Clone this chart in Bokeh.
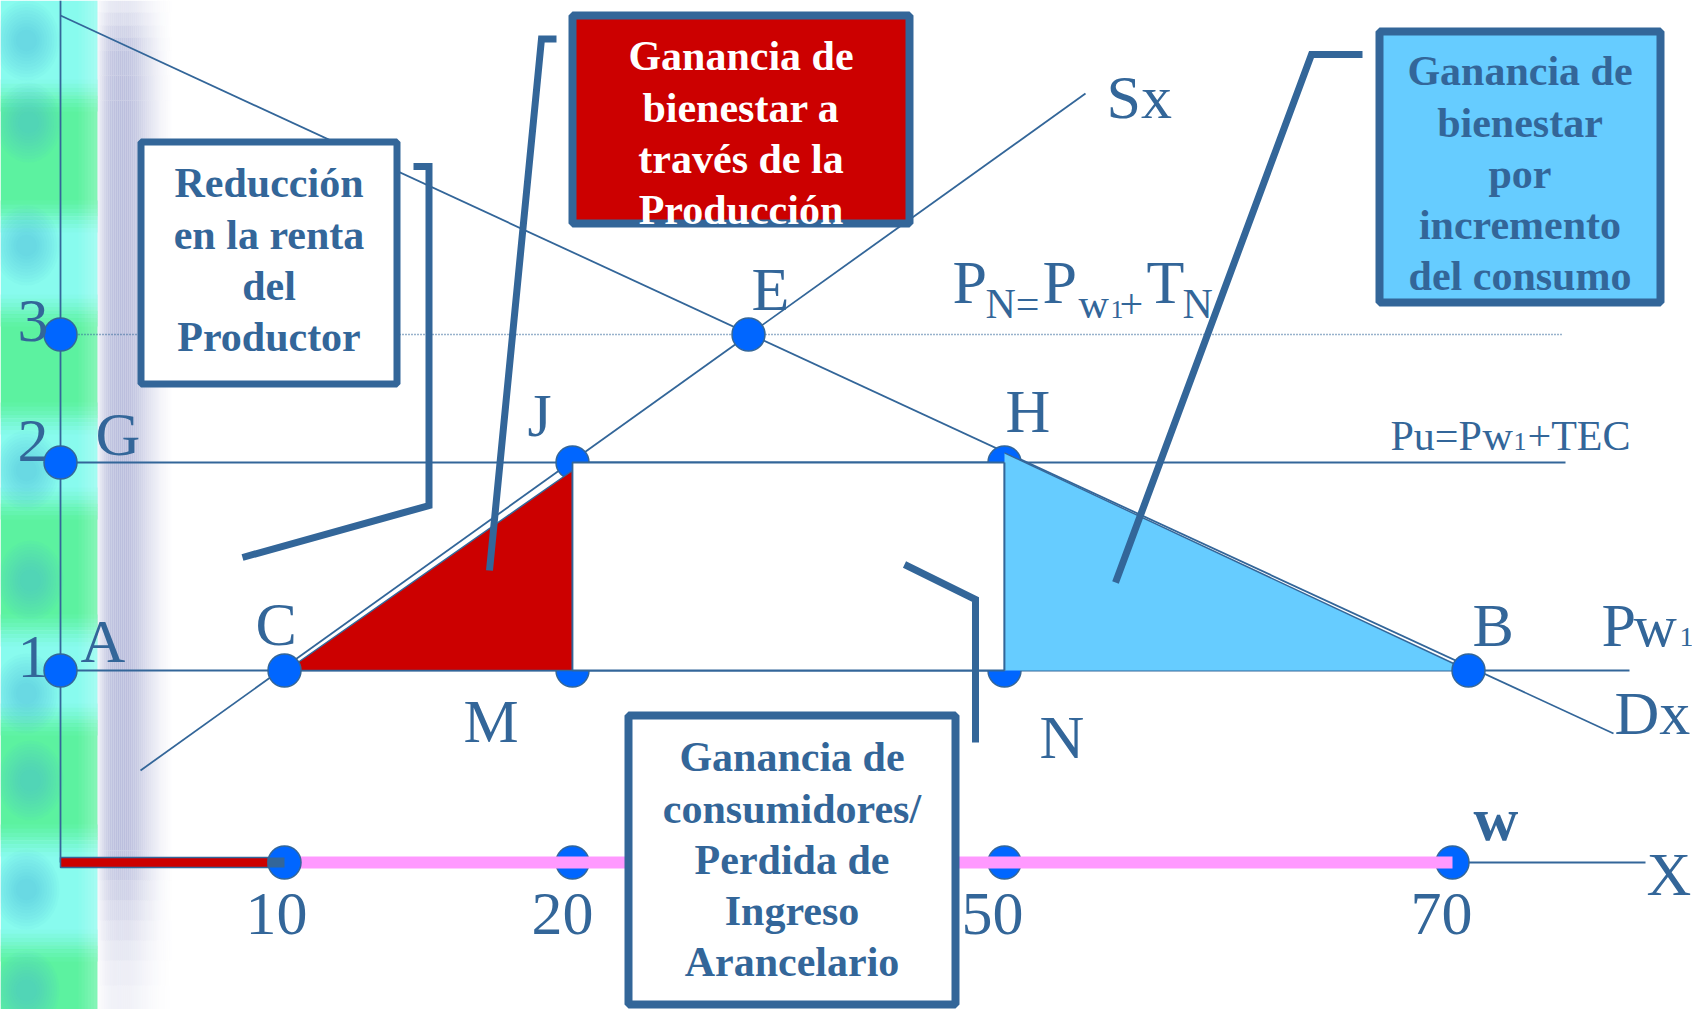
from bokeh.plotting import figure
from bokeh.models import Range1d
from bokeh.embed import file_html
from bokeh.resources import INLINE
from bokeh.core.properties import value

# ---------------- data (schematic diagram, drawing units) ----------------
price_labels = ["1", "2", "3"]          # price levels Pw1, Pu, PN
price_pos = [670, 462, 334]
qty_labels = ["10", "20", "50", "70"]  # quantities on X
qty_pos = [284, 572, 1004, 1452]
origin = (60, 862)
E_x = 748            # equilibrium point E (on price level 3)
B_x = 1468           # point B on demand at world price
demand_ends = ([60, 1613], [15, 733])
supply_ends = ([140, 1085], [770, 93])

box1_lines = ["Reducción", "en la renta", "del", "Productor"]
box2_lines = ["Ganancia de", "bienestar a", "través de la", "Producción"]
box3_lines = ["Ganancia de", "bienestar", "por", "incremento", "del consumo"]
box4_lines = ["Ganancia de", "consumidores/", "Perdida de", "Ingreso", "Arancelario"]

# ---------------- styles ----------------
BLUE = "#336699"
DOT = "#0066FF"
RED = "#CC0000"
SKY = "#66CCFF"
PINK = "#FF99FF"
SERIF = value("Liberation Serif")
KB = 0.34   # baseline correction (em)

P1, P2, P3 = price_pos
Q10, Q20, Q50, Q70 = qty_pos
C = (Q10, P1); M = (Q20, P1); J = (Q20, P2); N = (Q50, P1); H = (Q50, P2)
E = (E_x, P3); B = (B_x, P1)

def dem_y(x):
    (x0, x1), (y0, y1) = demand_ends
    return y0 + (y1 - y0) * (x - x0) / (x1 - x0)

def interp(x, xp, fp):
    for i in range(len(xp) - 1):
        if xp[i] <= x <= xp[i + 1]:
            t = (x - xp[i]) / (xp[i + 1] - xp[i])
            return fp[i] + (fp[i + 1] - fp[i]) * t
    return fp[-1] if x > xp[-1] else fp[0]

p = figure(width=1692, height=1009, x_range=Range1d(0, 1692), y_range=Range1d(1009, 0),
           output_backend="svg", toolbar_location=None, min_border=0,
           x_axis_type=None, y_axis_type=None)
p.grid.visible = False
p.outline_line_color = None
p.background_fill_color = "white"
p.border_fill_color = "white"

# ---------------- decorative left stripe ----------------
def hexmix(a, b, t):
    a = [int(a[i:i + 2], 16) for i in (1, 3, 5)]
    b = [int(b[i:i + 2], 16) for i in (1, 3, 5)]
    return "#%02x%02x%02x" % tuple(int(round(a[k] + (b[k] - a[k]) * t)) for k in range(3))

bands = [(0, 95, "c"), (95, 216, "g"), (216, 310, "c"), (310, 418, "g"), (418, 503, "c"),
         (503, 630, "g"), (630, 719, "c"), (719, 840, "g"), (840, 945, "c"), (945, 1025, "g")]
cols = {"g": "#5CF2A0", "c": "#88FBEE"}
p.quad(left=[0] * len(bands), right=[97] * len(bands), top=[b[0] for b in bands],
       bottom=[b[1] for b in bands], fill_color=[cols[b[2]] for b in bands], line_color=None)
TT, TB, TC = [], [], []
for i in range(1, len(bands)):
    yb = bands[i][0]
    ca, cb = cols[bands[i - 1][2]], cols[bands[i][2]]
    for k in range(8):
        TT.append(yb - 16 + 4 * k); TB.append(yb - 12 + 4 * k); TC.append(hexmix(ca, cb, (k + 0.5) / 8))
p.quad(left=[0] * len(TT), right=[97] * len(TT), top=TT, bottom=TB, fill_color=TC, line_color=None)
blob_y = [40, 122, 245, 470, 580, 693, 780, 889, 990]
blob_x = [26, 28, 26, 26, 30, 26, 30, 26, 26]
for k in range(10):
    p.ellipse(x=blob_x, y=blob_y, width=66 - 5 * k, height=80 - 6.5 * k, fill_color="#45B8E0",
              fill_alpha=0.055, line_color=None)
for k, x0 in enumerate(range(78, 97, 3)):
    p.quad(left=[x0], right=[x0 + 3], top=[0], bottom=[1025], fill_color="white",
           fill_alpha=0.04 * (k + 1), line_color=None)

# lavender shadow
hx = [97, 100, 105, 110, 118, 128, 136, 144, 152, 160, 168, 172]
ha = [0.1, 0.3, 0.55, 0.72, 0.8, 0.78, 0.65, 0.45, 0.28, 0.13, 0.04, 0.0]
vy = [0, 25, 50, 100, 850, 880, 920, 960, 1009]
vf = [0.3, 0.6, 0.9, 1.0, 1.0, 0.75, 0.5, 0.3, 0.18]
ycuts = [0, 12, 25, 37, 50, 75, 100, 850, 865, 880, 900, 920, 940, 960, 985, 1009]
L, R, T, Bt, A = [], [], [], [], []
for j in range(len(ycuts) - 1):
    y0, y1 = ycuts[j], ycuts[j + 1]
    f = interp((y0 + y1) / 2, vy, vf)
    for x0 in range(97, 172, 2):
        a = interp(x0 + 1, hx, ha) * f
        if a > 0.005:
            L.append(x0); R.append(x0 + 2); T.append(y0); Bt.append(y1); A.append(a)
p.quad(left=L, right=R, top=T, bottom=Bt, fill_color="#A9AED4", fill_alpha=A, line_color=None)

# ---------------- lines ----------------
p.line(x=[origin[0], origin[0]], y=[0, origin[1]], line_color=BLUE, line_width=1.8)
p.line(x=[origin[0], 1645], y=[origin[1], origin[1]], line_color=BLUE, line_width=1.8)
p.line(x=demand_ends[0], y=demand_ends[1], line_color=BLUE, line_width=1.8)
p.line(x=supply_ends[0], y=supply_ends[1], line_color=BLUE, line_width=1.8)
p.line(x=[origin[0], 1629], y=[P1, P1], line_color=BLUE, line_width=1.8)
p.line(x=[origin[0], 1565], y=[P2, P2], line_color=BLUE, line_width=1.8)
p.line(x=[origin[0], 1562], y=[P3, P3], line_color=BLUE, line_width=1.5, line_dash="1 2")

# dots hidden partly under the areas
under = [J, M, H, N]
p.scatter(x=[q[0] for q in under], y=[q[1] for q in under], size=33, fill_color=DOT,
          line_color=BLUE, line_width=1.5)
p.scatter(x=[Q20, Q50, Q70], y=[origin[1]] * 3, size=33, fill_color=DOT, line_color=BLUE, line_width=1.5)

# areas
p.patch(x=[C[0] + 2, J[0], M[0]], y=[C[1], J[1] + 8, M[1]], fill_color=RED, line_color=BLUE, line_width=1.5)
p.quad(left=[J[0]], right=[H[0]], top=[J[1]], bottom=[M[1]], fill_color="white",
       line_color=BLUE, line_width=1.8)
p.patch(x=[H[0], B[0], N[0]], y=[dem_y(H[0]) + 1, B[1], N[1]], fill_color=SKY, line_color=None)
p.line(x=[H[0], N[0]], y=[H[1], N[1]], line_color=BLUE, line_width=1.8)
p.line(x=[H[0], B[0]], y=[dem_y(H[0]) + 1, B[1]], line_color=BLUE, line_width=1.4)

# axis bars
p.quad(left=[Q10], right=[Q70], top=[856], bottom=[868], fill_color=PINK, line_color=None)
p.quad(left=[origin[0]], right=[Q10], top=[857], bottom=[867], fill_color=RED, line_color=BLUE, line_width=1.5)
p.scatter(x=[Q10], y=[origin[1]], size=33, fill_color=DOT, line_color=BLUE, line_width=1.5)
p.quad(left=[Q10 - 17], right=[Q10], top=[857], bottom=[867], fill_color=BLUE, line_color=None)

# dots on top
top_pts = [C, B, E] + [(origin[0], y) for y in price_pos]
p.scatter(x=[q[0] for q in top_pts], y=[q[1] for q in top_pts], size=33, fill_color=DOT,
          line_color=BLUE, line_width=1.5)

# ---------------- labels ----------------
def txt(x, y, s, size, color=BLUE, style="normal", align="left"):
    p.text(x=[x], y=[y - KB * size], text=[s], text_font=SERIF, text_font_size=value(f"{size}px"),
           text_color=color, text_font_style=style, text_baseline="alphabetic", text_align=align)

for lab, base in zip(price_labels, [678, 462, 342]):
    txt(48, base, lab, 62, align="right")
for lab, lx in zip(qty_labels, [245, 531, 961, 1410]):
    txt(lx, 935, lab, 62)

txt(95, 455, "G", 62)
txt(80, 662, "A", 62)
txt(255, 645, "C", 62)
txt(463, 742, "M", 62)
txt(527, 436, "J", 62)
txt(751, 310, "E", 62)
txt(1005, 432, "H", 62)
txt(1472, 646, "B", 62)
txt(1039, 758, "N", 62)
txt(1646, 895, "X", 62)
txt(1106, 118, "Sx", 62)
txt(1614, 734, "Dx", 62)
txt(1473, 840, "w", 62, style="bold")

# P_N = P_w1 + T_N
txt(952, 303, "P", 62)
txt(985, 318, "N=", 42)
txt(1042, 303, "P", 62)
txt(1078, 318, "w", 42)
txt(1110, 318, "1", 26)
txt(1119, 318, "+", 42)
txt(1146, 303, "T", 62)
txt(1182, 318, "N", 42)

# Pu = Pw1 + TEC
txt(1390, 450, "Pu=P", 42)
txt(1482, 450, "w", 42)
txt(1513, 450, "1", 26)
txt(1527, 450, "+TEC", 42)

# Pw1 (world price)
txt(1601, 646, "P", 62)
txt(1633, 646, "w", 60)
txt(1679, 646, "1", 28)

# ---------------- callout brackets ----------------
brk = dict(line_color=BLUE, line_width=7, line_join="miter")
p.line(x=[413, 428.5, 428.5, 242], y=[166, 166, 505, 557], **brk)
p.line(x=[556, 541, 489], y=[38.5, 38.5, 570], **brk)
p.line(x=[1362, 1311, 1115], y=[54, 54, 582], **brk)
p.line(x=[904, 975, 975], y=[564, 599, 742], **brk)

# ---------------- boxes ----------------
p.quad(left=[140.5], right=[396.5], top=[141.5], bottom=[383.5], fill_color="white", line_color=BLUE, line_width=7)
p.quad(left=[572], right=[909], top=[15], bottom=[223], fill_color=RED, line_color=BLUE, line_width=8)
p.quad(left=[1379], right=[1660], top=[31], bottom=[302], fill_color=SKY, line_color=BLUE, line_width=8)
p.quad(left=[628], right=[955], top=[715], bottom=[1004], fill_color="white", line_color=BLUE, line_width=8)

def box_text(lines, cx, y0, color):
    p.text(x=[cx] * len(lines), y=[y0 + 51.3 * i - KB * 42 for i in range(len(lines))], text=lines,
           text_font=SERIF, text_font_size=value("42px"), text_font_style="bold",
           text_color=color, text_align="center", text_baseline="alphabetic")

box_text(box1_lines, 268.5, 197, BLUE)
box_text(box2_lines, 740.5, 70, "white")
box_text(box3_lines, 1519.5, 85, BLUE)
box_text(box4_lines, 791.5, 771, BLUE)

open("out.html", "w").write(file_html(p, INLINE))
